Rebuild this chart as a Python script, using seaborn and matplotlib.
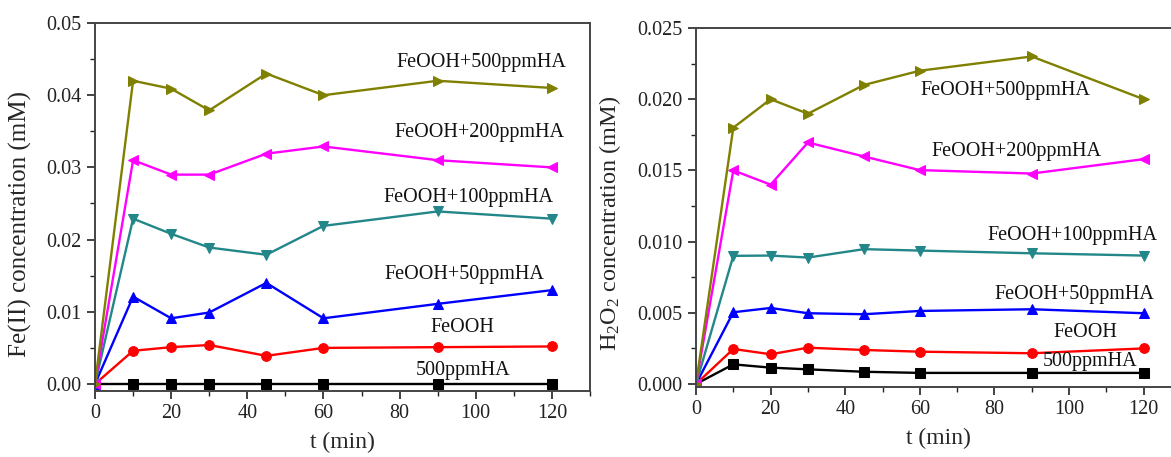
import matplotlib
matplotlib.use("Agg")
import matplotlib.pyplot as plt
from matplotlib.ticker import MultipleLocator, FormatStrFormatter
import seaborn as sns

# Sampling times (min)
t = [0, 10, 20, 30, 45, 60, 90, 120]

series_names = ["500ppmHA", "FeOOH", "FeOOH+50ppmHA", "FeOOH+100ppmHA",
                "FeOOH+200ppmHA", "FeOOH+500ppmHA"]

# Fe(II) concentration (mM)
fe_ha500 = [0, 0, 0, 0, 0, 0, 0, 0]
fe_feooh = [0, 0.0046, 0.0051, 0.0054, 0.0039, 0.0050, 0.0051, 0.0052]
fe_ha50 = [0, 0.0121, 0.0091, 0.0099, 0.0140, 0.0091, 0.0111, 0.0130]
fe_ha100 = [0, 0.0229, 0.0208, 0.0189, 0.0179, 0.0219, 0.0239, 0.0229]
fe_ha200 = [0, 0.0310, 0.0290, 0.0290, 0.0319, 0.0329, 0.0310, 0.0300]
fe_ha500_feooh = [0, 0.0420, 0.0409, 0.0379, 0.0430, 0.0400, 0.0420, 0.0410]

# H2O2 concentration (mM)
h_ha500 = [0, 0.00138, 0.00115, 0.00103, 0.00086, 0.00078, 0.00078, 0.00078]
h_feooh = [0, 0.00246, 0.00209, 0.00255, 0.00239, 0.00227, 0.00216, 0.00250]
h_ha50 = [0, 0.00504, 0.00534, 0.00497, 0.00490, 0.00513, 0.00525, 0.00497]
h_ha100 = [0, 0.00900, 0.00902, 0.00888, 0.00947, 0.00937, 0.00918, 0.00902]
h_ha200 = [0, 0.01500, 0.01400, 0.01696, 0.01598, 0.01502, 0.01478, 0.01579]
h_ha500_feooh = [0, 0.01800, 0.02000, 0.01898, 0.02100, 0.02200, 0.02300, 0.02000]

fe_data = [fe_ha500, fe_feooh, fe_ha50, fe_ha100, fe_ha200, fe_ha500_feooh]
h_data = [h_ha500, h_feooh, h_ha50, h_ha100, h_ha200, h_ha500_feooh]

colors = ["#000000", "#FF0000", "#0000FF", "#23878A", "#FF00FF", "#808000"]
markers = ["s", "o", "^", "v", "<", ">"]

# Label anchor points (t, value) for each curve
fe_label_pos = [(96.6, 0.0019), (96.4, 0.0078), (97, 0.0151), (98, 0.0258),
                (101, 0.0348), (101.6, 0.0445)]
h_label_pos = [(105.5, 0.0016), (104.4, 0.0036), (101.5, 0.0063), (101, 0.0104),
               (86, 0.0163), (82.8, 0.02058)]

sns.set_style("ticks")
plt.rcParams["font.family"] = ["Liberation Serif", "DejaVu Serif"]
plt.rcParams["mathtext.fontset"] = "custom"
plt.rcParams["mathtext.rm"] = "Liberation Serif"
plt.rcParams["mathtext.it"] = "Liberation Serif:italic"

W, H = 1171, 457
fig = plt.figure(figsize=(W / 100, H / 100), dpi=100)
ax1 = fig.add_axes([95 / W, 1 - 391 / H, 495 / W, 368 / H])
ax2 = fig.add_axes([696 / W, 1 - 387 / H, 485 / W, 359 / H])


def draw(ax, data, label_pos, ylim, major, minor, fmt, ylabel, label_x, label_size):
    for vals, c, m, name, (lx, ly) in zip(data, colors, markers, series_names, label_pos):
        sns.lineplot(x=t, y=vals, color=c, marker=m, markersize=7,
                     markeredgecolor=c, linewidth=1.7, ax=ax)
        ax.text(lx, ly, name, ha="center", va="center", fontsize=14.5, color="#111111")
    ax.set_xlim(0, 130)
    ax.set_ylim(*ylim)
    ax.xaxis.set_major_locator(MultipleLocator(20))
    ax.xaxis.set_minor_locator(MultipleLocator(10))
    ax.yaxis.set_major_locator(MultipleLocator(major))
    ax.yaxis.set_minor_locator(MultipleLocator(minor))
    ax.yaxis.set_major_formatter(FormatStrFormatter(fmt))
    ax.tick_params(which="major", direction="out", length=6, width=1.2,
                   labelsize=14.5, colors="#222222", top=False, right=False)
    ax.tick_params(which="minor", direction="out", length=3.5, width=1.0,
                   top=False, right=False, colors="#222222")
    for sp in ax.spines.values():
        sp.set_linewidth(1.4)
        sp.set_color("#444444")
    ax.set_xlabel("t (min)", fontsize=17, labelpad=6)
    ax.set_ylabel(ylabel, fontsize=label_size)
    ax.yaxis.set_label_coords(label_x, 0.455)
    ax.grid(False)


draw(ax1, fe_data, fe_label_pos, (-0.00097, 0.05), 0.01, 0.005, "%.2f",
     "Fe(II) concentration (mM)", -0.127, 18)
draw(ax2, h_data, h_label_pos, (-0.00021, 0.025), 0.005, 0.0025, "%.3f",
     r"H$_2$O$_2$ concentration (mM)", -0.150, 17.5)

fig.savefig("out.png", dpi=100)
